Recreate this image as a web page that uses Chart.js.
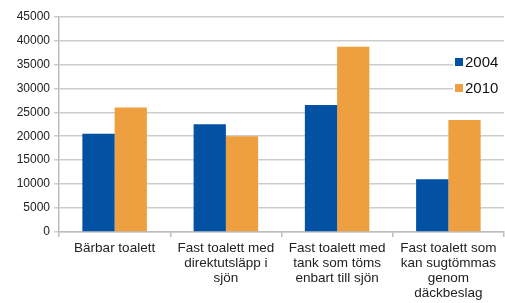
<!DOCTYPE html>
<html>
<head>
<meta charset="utf-8">
<script src="https://cdn.jsdelivr.net/npm/chart.js@4.4.1/dist/chart.umd.min.js"></script>
<style>
  html, body { margin: 0; padding: 0; background: #fff; }
  #wrap { width: 505px; height: 303px; position: relative; }
</style>
</head>
<body>
<div id="wrap"><canvas id="my_graph"></canvas></div>
<script>
const categories = [
  'Bärbar toalett',
  ['Fast toalett med', 'direktutsläpp i', 'sjön'],
  ['Fast toalett med', 'tank som töms', 'enbart till sjön'],
  ['Fast toalett som', 'kan sugtömmas', 'genom', 'däckbeslag']
];
const years = ['2004', '2010'];
const values2004 = [20500, 22500, 26500, 11000];
const values2010 = [26000, 20000, 38700, 23400];
const yTicks = [0, 5000, 10000, 15000, 20000, 25000, 30000, 35000, 40000, 45000];

const blue = '#0251a3';
const orange = '#ee9f3f';
const font = '"Liberation Sans", Arial, sans-serif';

// legend drawn over the plot, with white box behind it
const sideLegend = {
  id: 'sideLegend',
  afterDraw(chart) {
    const c = chart.ctx;
    c.save();
    c.fillStyle = '#fff';
    c.fillRect(453, 50, 52, 50);
    const ys = [62, 88];
    chart.data.datasets.forEach((ds, i) => {
      c.fillStyle = ds.backgroundColor;
      c.fillRect(455, ys[i] - 4, 8, 8);
      c.fillStyle = '#111';
      c.font = '15px ' + font;
      c.textBaseline = 'middle';
      c.fillText(ds.label, 465, ys[i] + 1);
    });
    c.restore();
  }
};

const ctx = document.getElementById('my_graph');

new Chart(ctx, {
  type: 'bar',
  data: {
    labels: categories,
    datasets: [
      { label: years[0], data: values2004, backgroundColor: blue },
      { label: years[1], data: values2010, backgroundColor: orange }
    ]
  },
  options: {
    responsive: true,
    maintainAspectRatio: false,
    animation: false,
    layout: { padding: { top: 16.5, right: 1, left: 0, bottom: 0 } },
    datasets: {
      bar: { categoryPercentage: 0.58, barPercentage: 1 }
    },
    scales: {
      y: {
        min: 0,
        max: 45000,
        afterBuildTicks: (axis) => { axis.ticks = yTicks.map(v => ({ value: v })); },
        afterFit: (axis) => { axis.width = 59; },
        grid: { color: '#cdcdcd', lineWidth: 1.5, tickLength: 5, drawTicks: true },
        border: { color: '#bdbdbd', width: 1.5 },
        ticks: {
          color: '#222',
          font: { family: font, size: 12 },
          padding: 4,
          callback: (v) => String(v)
        }
      },
      x: {
        afterFit: (axis) => { axis.height = 71; },
        grid: { display: true, drawOnChartArea: false, offset: true, color: '#bdbdbd', lineWidth: 1.5, tickLength: 5 },
        border: { color: '#bdbdbd', width: 1.5 },
        ticks: {
          color: '#222',
          font: { family: font, size: 13.5, lineHeight: 1.11 },
          padding: 4,
          maxRotation: 0,
          autoSkip: false
        }
      }
    },
    plugins: {
      legend: { display: false },
      tooltip: { enabled: false }
    }
  },
  plugins: [sideLegend]
});
</script>
</body>
</html>
